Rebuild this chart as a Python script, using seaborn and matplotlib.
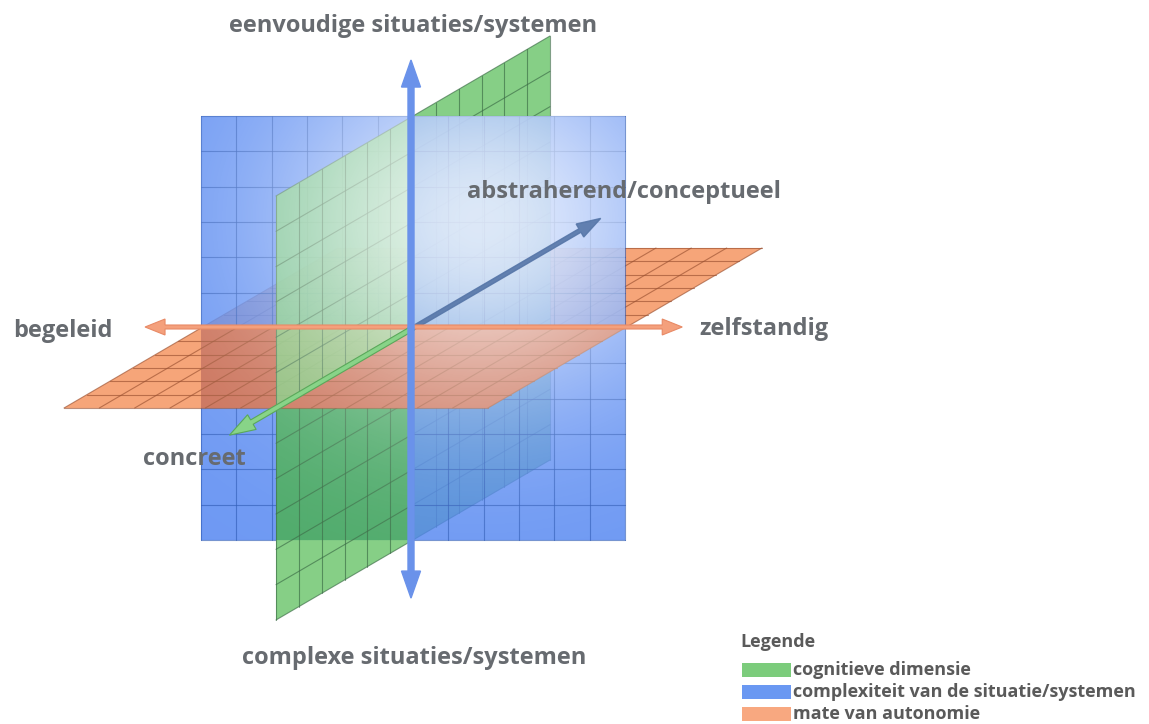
import numpy as np
import matplotlib.pyplot as plt
from matplotlib.patches import Polygon, FancyArrow, Rectangle
import seaborn as sns

sns.set_theme(style="white")
plt.rcParams['font.family'] = ['Open Sans', 'DejaVu Sans']

# scene geometry, in pixels of the 1149x724 canvas
ORIGIN = (413, 328)
HALF_W = 212          # half width of blue / orange planes
HALF_H = 212          # half height of blue / green planes
DEPTH = (137, -80)    # half depth vector, pointing "back"
N_CELLS = 12

# axis arrow extents (in units of the plane half sizes)
V_TOP, V_BOTTOM = 1.264, -1.274
U_LEFT, U_RIGHT = -1.264, 1.27
W_BACK, W_FRONT = 1.37, -1.34

labels = [
    ("eenvoudige situaties/systemen", 413, 26),
    ("abstraherend/conceptueel", 624, 192),
    ("begeleid", 63, 331),
    ("zelfstandig", 764, 329),
    ("concreet", 194, 459),
    ("complexe situaties/systemen", 414, 658),
]

legend_title = "Legende"
legend_names = ["cognitieve dimensie", "complexiteit van de situatie/systemen", "mate van autonomie"]
legend_colors = ["#7ccc7c", "#6a98f2", "#f8a880"]

BLUE, BLUE_GRID = "#4a80f0", "#2f5cb8"
GREEN, GREEN_GRID = "#80cd80", "#3a6a45"
GREEN_ON_BLUE = "#4aa868"
ORANGE, ORANGE_GRID = "#f6a072", "#9a5030"
ORANGE_ON_BLUE = "#c86f58"
TEXT = "#676b70"


def proj(u, v, w):
    x = ORIGIN[0] + u * HALF_W + w * DEPTH[0]
    y = ORIGIN[1] - v * HALF_H + w * DEPTH[1]
    return x, y


def plane(ax, kind, r1, r2, face, grid, alpha, z, inner=None, clip=None):
    # kind: which coordinate is 0 ('w' blue, 'u' green, 'v' orange)
    def pt(a, b):
        if kind == 'w':
            return proj(a, b, 0)
        if kind == 'u':
            return proj(0, b, a)
        return proj(a, 0, b)

    corners = [pt(r1[0], r2[0]), pt(r1[1], r2[0]), pt(r1[1], r2[1]), pt(r1[0], r2[1])]
    ax.add_patch(Polygon(corners, closed=True, facecolor=face, edgecolor='none',
                         alpha=alpha, zorder=z))
    if inner is not None:
        p = Polygon(corners, closed=True, facecolor=inner, edgecolor='none',
                    alpha=0.9, zorder=z + 0.05)
        ax.add_patch(p)
        p.set_clip_path(clip)
    ticks = np.linspace(-1, 1, N_CELLS + 1)
    for t in ticks:
        if r1[0] - 1e-9 <= t <= r1[1] + 1e-9:
            (x0, y0), (x1, y1) = pt(t, r2[0]), pt(t, r2[1])
            ax.plot([x0, x1], [y0, y1], color=grid, lw=0.8, alpha=0.65, zorder=z + 0.1)
        if r2[0] - 1e-9 <= t <= r2[1] + 1e-9:
            (x0, y0), (x1, y1) = pt(r1[0], t), pt(r1[1], t)
            ax.plot([x0, x1], [y0, y1], color=grid, lw=0.8, alpha=0.65, zorder=z + 0.1)


fig = plt.figure(figsize=(11.49, 7.24), dpi=100)
ax = fig.add_axes([0, 0, 1, 1])
ax.set_xlim(0, 1149)
ax.set_ylim(724, 0)
ax.set_aspect('equal')
ax.axis('off')

bx0, by0 = proj(-1, 1, 0)
bx1, by1 = proj(1, -1, 0)
blue_rect = Rectangle((bx0, by0), bx1 - bx0, by1 - by0, transform=ax.transData)

# back halves (behind the blue plane)
plane(ax, 'v', (-1, 1), (0, 1), ORANGE, ORANGE_GRID, 0.95, 1)
plane(ax, 'u', (0, 1), (-1, 1), GREEN, GREEN_GRID, 0.95, 2)
# blue plane
plane(ax, 'w', (-1, 1), (-1, 1), BLUE, BLUE_GRID, 0.8, 3)
# front halves: lower green quadrant, orange, upper green quadrant
plane(ax, 'u', (-1, 0), (-1, 0), GREEN, GREEN_GRID, 0.95, 4, GREEN_ON_BLUE, blue_rect)
plane(ax, 'v', (-1, 1), (-1, 0), ORANGE, ORANGE_GRID, 0.95, 5, ORANGE_ON_BLUE, blue_rect)
plane(ax, 'u', (-1, 0), (0, 1), GREEN, GREEN_GRID, 0.82, 6)

# soft light in the middle of the blue plane
gx, gy = np.meshgrid(np.linspace(0, 1149, 300), np.linspace(0, 724, 200))
glow = 0.8 * np.exp(-((gx - 480) ** 2 / (2 * 150 ** 2) + (gy - 220) ** 2 / (2 * 130 ** 2)))
img = np.ones((200, 300, 4))
img[..., 3] = glow
im = ax.imshow(img, extent=(0, 1149, 724, 0), origin='upper', interpolation='bilinear', zorder=7)
im.set_clip_path(Rectangle((bx0, by0), bx1 - bx0, by1 - by0, transform=ax.transData))

# axes arrows
ox, oy = ORIGIN
for v in (V_TOP, V_BOTTOM):
    x1, y1 = proj(0, v, 0)
    ax.add_patch(FancyArrow(ox - 2, oy, 0, y1 - oy, width=6, head_width=19, head_length=27,
                            length_includes_head=True, color="#6a92ea", zorder=10))
for u in (U_LEFT, U_RIGHT):
    x1, y1 = proj(u, 0, 0)
    ax.add_patch(FancyArrow(ox, oy - 1, x1 - ox, 0, width=4, head_width=16, head_length=20,
                            length_includes_head=True, facecolor="#f4a07c", edgecolor="#e88a66",
                            lw=0.8, zorder=9))
x1, y1 = proj(0, 0, W_BACK)
ax.add_patch(FancyArrow(ox, oy, x1 - ox, y1 - oy, width=4, head_width=15, head_length=24,
                        length_includes_head=True, color="#5676a8", alpha=0.9, zorder=8))
x1, y1 = proj(0, 0, W_FRONT)
ax.add_patch(FancyArrow(ox, oy, x1 - ox, y1 - oy, width=5, head_width=17, head_length=26,
                        length_includes_head=True, facecolor="#88d488", edgecolor="#5aa85a",
                        lw=0.8, zorder=9))

for text, x, y in labels:
    ax.text(x, y, text, ha='center', va='center', fontsize=17, fontweight='bold',
            color=TEXT, zorder=11)

# legend
ax.text(740, 642, legend_title, ha='left', va='center', fontsize=13, fontweight='bold',
        color="#5a5a5a", zorder=11)
for i, (name, col) in enumerate(zip(legend_names, legend_colors)):
    yc = 670 + i * 22
    ax.add_patch(Rectangle((742, yc - 7), 49, 14, facecolor=col, edgecolor='none', zorder=11))
    ax.text(793, yc, name, ha='left', va='center', fontsize=13, fontweight='bold',
            color="#5a5a5a", zorder=11)

fig.savefig("out.png", dpi=100)
